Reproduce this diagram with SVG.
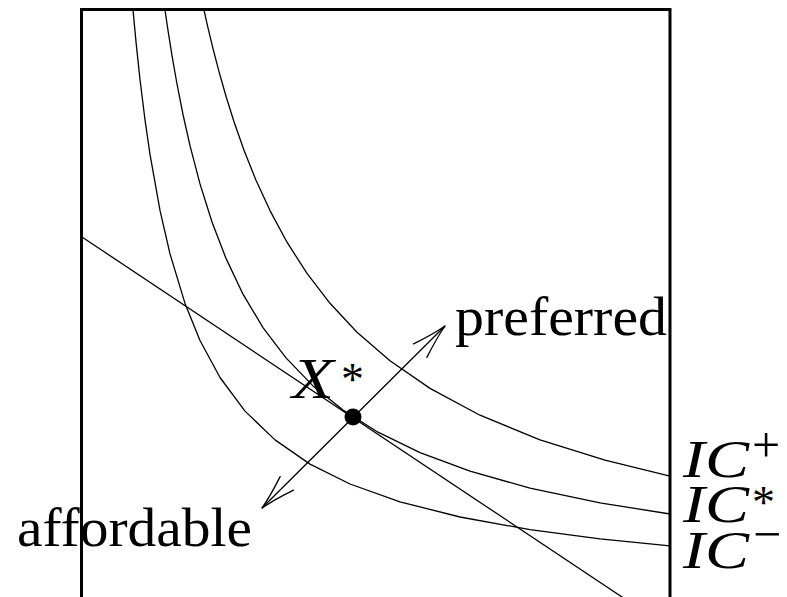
<svg xmlns="http://www.w3.org/2000/svg" width="787" height="597" viewBox="0 0 787 597">
<style>
.ln{fill:none;stroke:#000;stroke-width:1.3;stroke-linejoin:round;stroke-linecap:round}
.rm{font-family:"Liberation Serif","Times New Roman",serif;font-size:55px;fill:#000}
.it{font-family:"Liberation Serif","Times New Roman",serif;font-style:italic;font-size:53px;fill:#000}
.sup{font-family:"Liberation Serif","Times New Roman",serif;font-style:normal;fill:#000}
</style>
<defs>
<marker id="head" markerUnits="userSpaceOnUse" orient="auto-start-reverse" refX="0" refY="0" markerWidth="40" markerHeight="30" overflow="visible">
<path d="M-35,-9.5 Q-14,-2.5 0,0 Q-14,2.5 -35,9.5" fill="none" stroke="#000" stroke-width="1.3" stroke-linecap="round"/>
</marker>
</defs>
<rect width="787" height="597" fill="#fff"/>
<g id="frame">
<path d="M81.5,597 V9.5 H670 V597" fill="none" stroke="#000" stroke-width="3"/>
</g>
<g id="connectors">
<polyline id="ic-minus" class="ln" points="133,9.9 136,41.9 140,79.5 145,119.9 150,154.4 160,210.4 170,253.9 185,303.4 200,340.5 220,377.5 245,411.1 275,439.9 310,464.1 350,484 400,501.8 460,517 530,529.7 600,538.9 670,545.9"/>
<polyline id="ic-star" class="ln" points="165,10 168,30.4 172,55.6 177,84 183,114.5 190,145.7 200,183.9 212,222 226,258.4 243,294.2 263,327.6 286,357.9 313,385.9 343,410.1 378,432.2 420,452.6 470,471.2 530,488.1 600,502.8 670,514"/>
<polyline id="ic-plus" class="ln" points="204,10.1 208,27.8 213,48.6 219,71.6 226,96.2 234,121.7 244,150.2 256,180.2 270,210.6 287,242.2 307,273.4 330,303.3 357,332.2 390,360.8 430,388.4 480,415.2 540,439.8 605,460.2 670,476.1"/>
<line id="budget" class="ln" x1="82" y1="237" x2="625" y2="599"/>
<line id="direction" class="ln" x1="262" y1="508" x2="445" y2="326" marker-start="url(#head)" marker-end="url(#head)"/>
</g>
<g id="optimum">
<circle cx="353" cy="417" r="8.5" fill="#000"/>
<text class="it" x="292" y="398" style="font-size:56px"><tspan textLength="42" lengthAdjust="spacingAndGlyphs">X</tspan><tspan class="sup" style="font-size:46px" x="341" y="395">*</tspan></text>
</g>
<g id="label-preferred">
<text class="rm" x="455" y="335" textLength="212" lengthAdjust="spacingAndGlyphs">preferred</text>
</g>
<g id="label-affordable">
<text class="rm" x="17" y="546" textLength="235" lengthAdjust="spacingAndGlyphs">affordable</text>
</g>
<g id="label-ic-plus">
<text class="it" x="683" y="477"><tspan textLength="66" lengthAdjust="spacingAndGlyphs">IC</tspan><tspan class="sup" style="font-size:50px" x="752" y="462">+</tspan></text>
</g>
<g id="label-ic-star">
<text class="it" x="683" y="522"><tspan textLength="66" lengthAdjust="spacingAndGlyphs">IC</tspan><tspan class="sup" style="font-size:46px" x="752" y="518">*</tspan></text>
</g>
<g id="label-ic-minus">
<text class="it" x="683" y="568"><tspan textLength="66" lengthAdjust="spacingAndGlyphs">IC</tspan><tspan class="sup" style="font-size:50px" x="753" y="551">−</tspan></text>
</g>
</svg>
